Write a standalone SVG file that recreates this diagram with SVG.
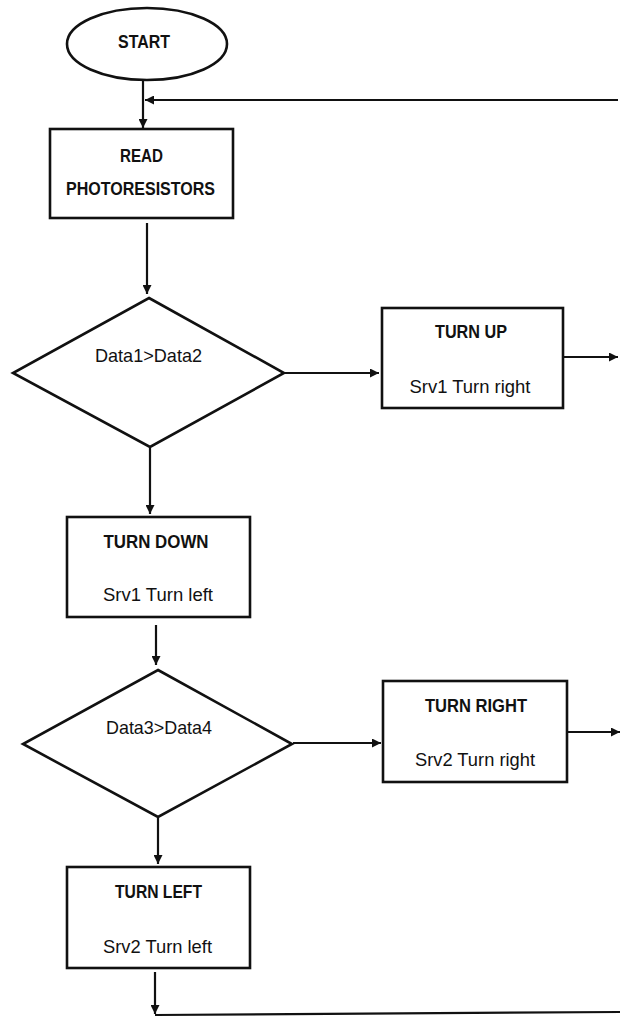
<svg xmlns="http://www.w3.org/2000/svg" width="620" height="1018" viewBox="0 0 620 1018">
<style>
.shape{fill:#fff;stroke:#111;stroke-width:2.6}
.ln{fill:none;stroke:#111;stroke-width:2.2}
text{font-family:"Liberation Sans",Arial,sans-serif;font-size:19px;fill:#111;text-anchor:middle}
.b{font-weight:bold}
</style>
<defs>
<marker id="ah" viewBox="0 0 10 10" refX="10" refY="5" markerWidth="10" markerHeight="9" markerUnits="userSpaceOnUse" orient="auto">
<path d="M0,0 L10,5 L0,10 z" fill="#111"/>
</marker>
</defs>
<rect width="620" height="1018" fill="#fff"/>
<g id="connectors">
<line class="ln" x1="143" y1="81" x2="143" y2="128" marker-end="url(#ah)"/>
<line class="ln" x1="618" y1="100" x2="145" y2="100" marker-end="url(#ah)"/>
<line class="ln" x1="147" y1="223" x2="147" y2="294" marker-end="url(#ah)"/>
<line class="ln" x1="285" y1="373" x2="379" y2="373" marker-end="url(#ah)"/>
<line class="ln" x1="564" y1="357" x2="618" y2="357" marker-end="url(#ah)"/>
<line class="ln" x1="150" y1="448" x2="150" y2="514" marker-end="url(#ah)"/>
<line class="ln" x1="156" y1="625" x2="156" y2="665" marker-end="url(#ah)"/>
<line class="ln" x1="293" y1="743" x2="381" y2="743" marker-end="url(#ah)"/>
<line class="ln" x1="568" y1="732" x2="620" y2="732" marker-end="url(#ah)"/>
<line class="ln" x1="158" y1="818" x2="158" y2="864" marker-end="url(#ah)"/>
<line class="ln" x1="155" y1="972" x2="155" y2="1014" marker-end="url(#ah)"/>
<line class="ln" x1="155" y1="1015" x2="620" y2="1012"/>
</g>
<g id="start">
<ellipse class="shape" cx="147" cy="44" rx="80" ry="36"/>
<text class="b" x="144" y="48" textLength="52" lengthAdjust="spacingAndGlyphs">START</text>
</g>
<g id="read">
<rect class="shape" x="50" y="129" width="183" height="89"/>
<text class="b" x="141.5" y="162" textLength="43" lengthAdjust="spacingAndGlyphs">READ</text>
<text class="b" x="140.5" y="195" textLength="149" lengthAdjust="spacingAndGlyphs">PHOTORESISTORS</text>
</g>
<g id="decision1">
<polygon class="shape" points="149,298 284,373 150,447 13,373"/>
<text x="148.5" y="362" textLength="107" lengthAdjust="spacingAndGlyphs">Data1&gt;Data2</text>
</g>
<g id="turnup">
<rect class="shape" x="382" y="308" width="181" height="100"/>
<text class="b" x="471" y="338" textLength="72" lengthAdjust="spacingAndGlyphs">TURN UP</text>
<text x="470" y="393" textLength="121" lengthAdjust="spacingAndGlyphs">Srv1 Turn right</text>
</g>
<g id="turndown">
<rect class="shape" x="67" y="517" width="183" height="100"/>
<text class="b" x="156" y="548" textLength="105" lengthAdjust="spacingAndGlyphs">TURN DOWN</text>
<text x="158" y="601" textLength="110" lengthAdjust="spacingAndGlyphs">Srv1 Turn left</text>
</g>
<g id="decision2">
<polygon class="shape" points="158,670 292,744 158,817 23,744"/>
<text x="159" y="734" textLength="106" lengthAdjust="spacingAndGlyphs">Data3&gt;Data4</text>
</g>
<g id="turnright">
<rect class="shape" x="383" y="681" width="184" height="101"/>
<text class="b" x="476" y="712" textLength="102" lengthAdjust="spacingAndGlyphs">TURN RIGHT</text>
<text x="475" y="766" textLength="120" lengthAdjust="spacingAndGlyphs">Srv2 Turn right</text>
</g>
<g id="turnleft">
<rect class="shape" x="67" y="867" width="183" height="101"/>
<text class="b" x="158.5" y="898" textLength="87" lengthAdjust="spacingAndGlyphs">TURN LEFT</text>
<text x="157.5" y="953" textLength="109" lengthAdjust="spacingAndGlyphs">Srv2 Turn left</text>
</g>
</svg>
